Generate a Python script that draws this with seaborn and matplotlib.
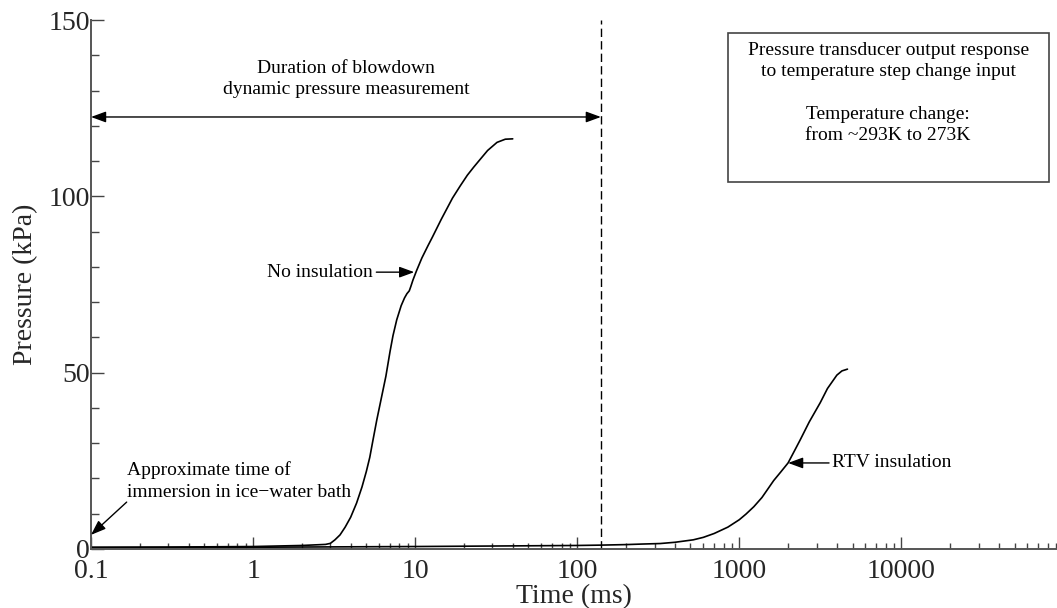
import matplotlib
matplotlib.use("Agg")
import matplotlib.pyplot as plt
from matplotlib.patches import Rectangle
from matplotlib.ticker import LogLocator, FixedLocator, MultipleLocator, NullFormatter
import seaborn as sns
import pandas as pd

# Pressure response, transducer without insulation (time in ms, pressure in kPa)
t_bare = [0.1, 0.3, 1.0, 2.0, 2.8, 3.0, 3.2, 3.44, 3.7, 4.0, 4.35, 4.7, 5.0, 5.25,
          5.5, 5.8, 6.2, 6.6, 7.0, 7.3, 7.7, 8.2, 8.6, 8.9, 9.2, 9.4, 9.7, 10.2, 11.0,
          12.0, 12.8, 14.5, 17.0, 19.0, 21.0, 23.0, 25.0, 28.0, 32.0, 36.0, 40.0]
p_bare = [0.5, 0.55, 0.7, 1.0, 1.3, 1.6, 2.6, 4.0, 6.2, 9.0, 13.0, 17.6, 22.0, 26.0,
          31.0, 36.6, 43.0, 49.0, 56.0, 60.5, 65.0, 69.0, 71.2, 72.4, 73.2, 74.4, 76.3, 78.9, 82.5,
          86.0, 88.5, 93.5, 99.5, 103.0, 106.0, 108.3, 110.3, 113.0, 115.3, 116.2, 116.3]

# Pressure response, transducer with RTV insulation
t_rtv = [0.1, 1.0, 10.0, 100.0, 140.0, 200.0, 250.0, 325.0, 400.0, 520.0, 600.0,
         700.0, 850.0, 1000.0, 1100.0, 1230.0, 1380.0, 1500.0, 1630.0, 1800.0, 2000.0,
         2200.0, 2380.0, 2700.0, 3160.0, 3500.0, 4000.0, 4300.0, 4650.0]
p_rtv = [0.4, 0.5, 0.7, 1.0, 1.1, 1.25, 1.4, 1.55, 1.9, 2.6, 3.3,
         4.4, 6.2, 8.3, 9.9, 12.0, 14.6, 17.0, 19.4, 21.8, 24.4,
         28.0, 31.0, 36.0, 41.5, 45.5, 49.3, 50.5, 51.0]

x_ticks = [0.1, 1, 10, 100, 1000, 10000]
x_tick_labels = ["0.1", "1", "10", "100", "1000", "10000"]
y_ticks = [0, 50, 100, 150]

blowdown_end = 140.0      # ms, end of the dynamic pressure measurement window
blowdown_level = 122.5    # kPa, height of the duration arrow

sns.set_style("ticks")
plt.rcParams["font.family"] = ["Liberation Serif", "DejaVu Serif"]

W, H = 1057, 608
fig = plt.figure(figsize=(W / 100, H / 100), dpi=100)
ax = fig.add_axes([91 / W, (H - 549) / H, 965 / W, (549 - 20) / H])

bare = pd.DataFrame({"Time": t_bare, "Pressure": p_bare})
rtv = pd.DataFrame({"Time": t_rtv, "Pressure": p_rtv})
sns.lineplot(data=bare, x="Time", y="Pressure", ax=ax, color="black", lw=1.2)
sns.lineplot(data=rtv, x="Time", y="Pressure", ax=ax, color="black", lw=1.2)

ax.set_xscale("log")
ax.set_xlim(0.1, 9.0e4)
ax.set_ylim(0, 150)

ax.xaxis.set_major_locator(FixedLocator(x_ticks))
ax.set_xticklabels(x_tick_labels)
ax.xaxis.set_minor_locator(LogLocator(base=10, subs=range(2, 10), numticks=20))
ax.xaxis.set_minor_formatter(NullFormatter())
ax.set_yticks(y_ticks)
ax.set_yticklabels([str(v) for v in y_ticks])
ax.yaxis.set_minor_locator(MultipleLocator(10))

ax.tick_params(axis="both", which="major", direction="in", length=9, width=1,
               labelsize=20, color="#444444")
ax.tick_params(axis="x", which="minor", direction="in", length=4.5, width=1, color="#444444")
ax.tick_params(axis="y", which="minor", direction="in", length=6, width=1, color="#444444")
ax.tick_params(axis="x", which="major", pad=7)
ax.tick_params(axis="y", which="major", pad=1)

for side in ("top", "right"):
    ax.spines[side].set_visible(False)
for side in ("left", "bottom"):
    ax.spines[side].set_color("#555555")
    ax.spines[side].set_linewidth(1.4)

ax.set_xlabel("Time (ms)", fontsize=20, labelpad=0)
ax.set_ylabel("Pressure (kPa)", fontsize=20, labelpad=7)

# End of the blowdown measurement window
ax.axvline(blowdown_end, color="black", lw=1, ls=(0, (6, 3)))

ann = dict(fontsize=14, color="black")
head = "-|>,head_length=0.6,head_width=0.22"

ax.annotate("", xy=(0.1, blowdown_level), xytext=(blowdown_end, blowdown_level),
            arrowprops=dict(arrowstyle="<|-|>,head_length=0.6,head_width=0.22",
                            color="black", lw=1, mutation_scale=15,
                            shrinkA=0, shrinkB=0))
ax.text(3.74, 133.3, "Duration of blowdown\ndynamic pressure measurement",
        ha="center", va="center", linespacing=1.35, **ann)

ax.annotate("No insulation", xy=(9.87, 78.5), xytext=(5.5, 78.5),
            ha="right", va="center",
            arrowprops=dict(arrowstyle=head, color="black", lw=1, mutation_scale=15,
                            shrinkA=0, shrinkB=0), **ann)

ax.annotate("RTV insulation", xy=(2000, 24.4), xytext=(3750, 24.4),
            ha="left", va="center",
            arrowprops=dict(arrowstyle=head, color="black", lw=1, mutation_scale=15,
                            shrinkA=0, shrinkB=0), **ann)

ax.annotate("", xy=(0.1, 4.0), xytext=(0.166, 13.3),
            arrowprops=dict(arrowstyle=head, color="black", lw=1, mutation_scale=15,
                            shrinkA=0, shrinkB=0))
ax.text(0.167, 19.3, "Approximate time of\nimmersion in ice\u2212water bath",
        ha="left", va="center", linespacing=1.35, **ann)

# Description box
ax.add_patch(Rectangle((0.660, 0.694), 0.333, 0.281, transform=ax.transAxes,
                       fill=False, edgecolor="#444444", lw=1.2, clip_on=False))
ax.text(0.826, 0.959,
        "Pressure transducer output response\nto temperature step change input\n\n"
        "Temperature change:\nfrom ~293K to 273K",
        transform=ax.transAxes, ha="center", va="top", linespacing=1.33,
        multialignment="center", **ann)

fig.savefig("out.png", dpi=100)
